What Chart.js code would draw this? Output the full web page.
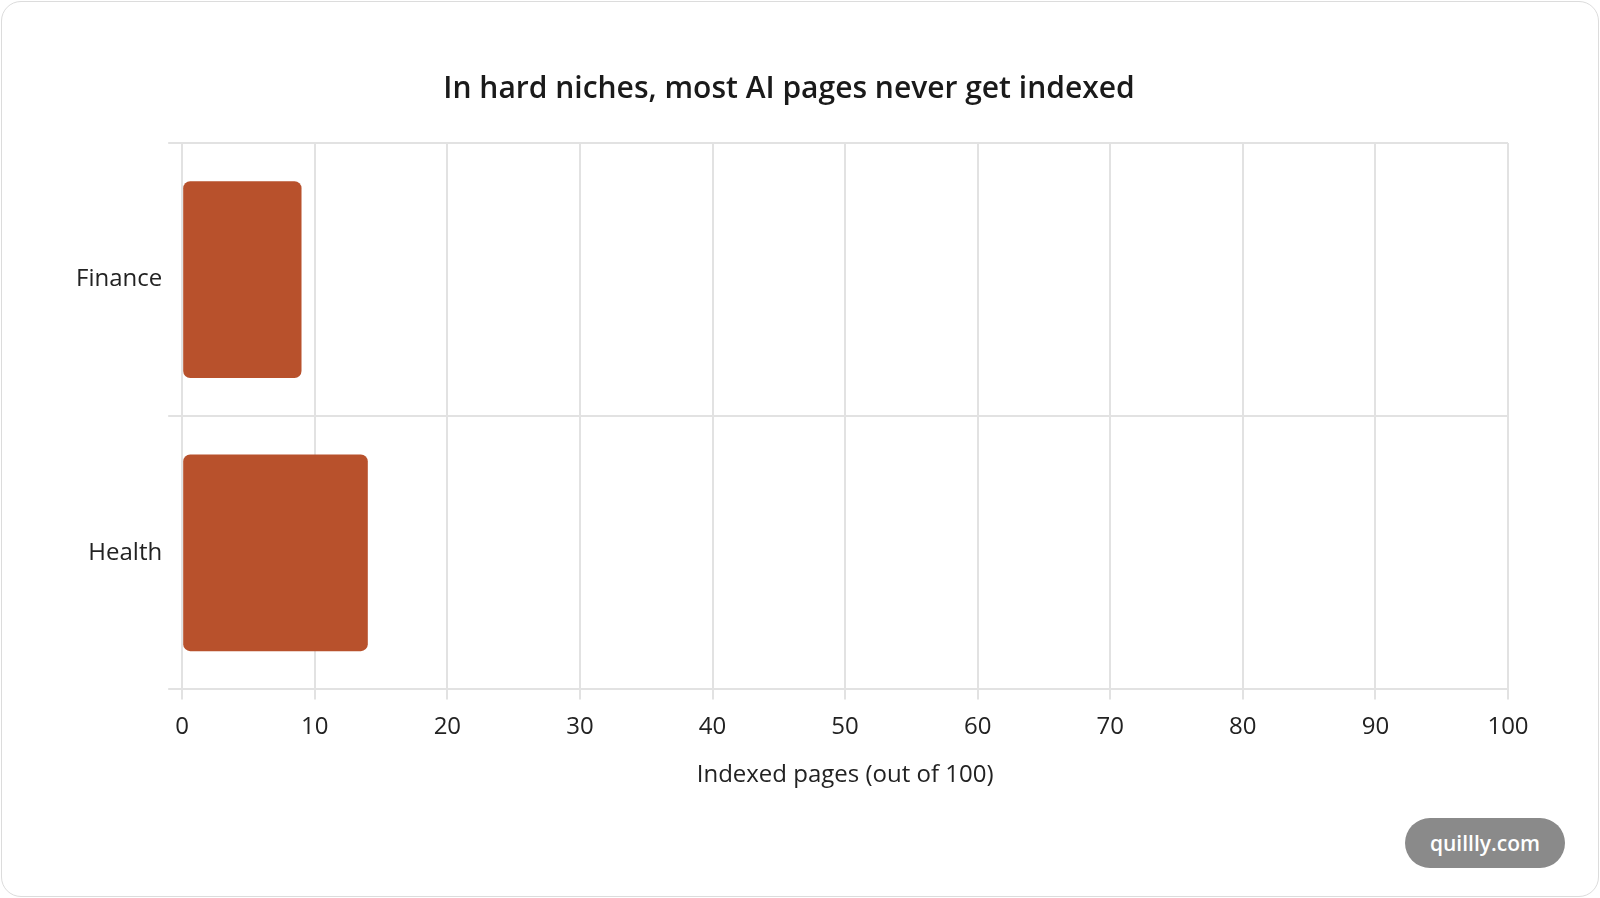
<!DOCTYPE html>
<html>
<head>
<meta charset="utf-8">
<script src="https://cdn.jsdelivr.net/npm/chart.js@4"></script>
<style>
  html, body { margin: 0; padding: 0; background: #fff; }
  #card {
    position: absolute; left: 1px; top: 1px; width: 1596px; height: 894px;
    border: 1px solid #dcdcdc; border-radius: 20px; background: #fff; overflow: hidden;
  }
  #wrap { position: absolute; left: 68px; top: 40px; width: 1502px; height: 752px; }
  #mark {
    position: absolute; right: 33px; bottom: 28px; width: 160px; height: 50px;
    border-radius: 25px; background: #8a8a8a; color: #fff;
    font: 600 21px "Open Sans", sans-serif; line-height: 50px; text-align: center;
  }
</style>
</head>
<body>
<div id="card">
  <div id="wrap"><canvas id="chart"></canvas></div>
  <div id="mark">quillly.com</div>
</div>
<script>
const categories = ['Finance', 'Health'];
const indexedPages = [9, 14];
const xTicks = [0, 10, 20, 30, 40, 50, 60, 70, 80, 90, 100];

Chart.defaults.font.family = '"Open Sans", "Noto Sans", sans-serif';
Chart.defaults.color = '#222';

new Chart(document.getElementById('chart'), {
  type: 'bar',
  data: {
    labels: categories,
    datasets: [{
      data: indexedPages,
      backgroundColor: '#b8512c',
      borderRadius: 7,
      borderSkipped: false
    }]
  },
  options: {
    indexAxis: 'y',
    responsive: true,
    maintainAspectRatio: false,
    animation: false,
    layout: { padding: { right: 64 } },
    plugins: {
      legend: { display: false },
      tooltip: { enabled: false },
      title: {
        display: true,
        text: 'In hard niches, most AI pages never get indexed',
        font: { size: 30, weight: '600' },
        color: '#1a1a1a',
        padding: { top: 29, bottom: 36 }
      }
    },
    scales: {
      x: {
        min: 0, max: 100,
        afterBuildTicks: s => { s.ticks = xTicks.map(v => ({ value: v })); },
        grid: { color: '#e2e2e2', lineWidth: 2, tickLength: 10 },
        border: { color: '#e2e2e2', width: 2 },
        ticks: { font: { size: 24 }, color: '#222', padding: 13 },
        title: { display: true, text: 'Indexed pages (out of 100)', font: { size: 24 }, color: '#222', padding: { top: 7 } }
      },
      y: {
        grid: { color: '#e2e2e2', lineWidth: 2, tickLength: 14 },
        border: { color: '#e2e2e2', width: 2 },
        ticks: { font: { size: 24 }, color: '#222', padding: 6 }
      }
    }
  }
});
</script>
</body>
</html>
